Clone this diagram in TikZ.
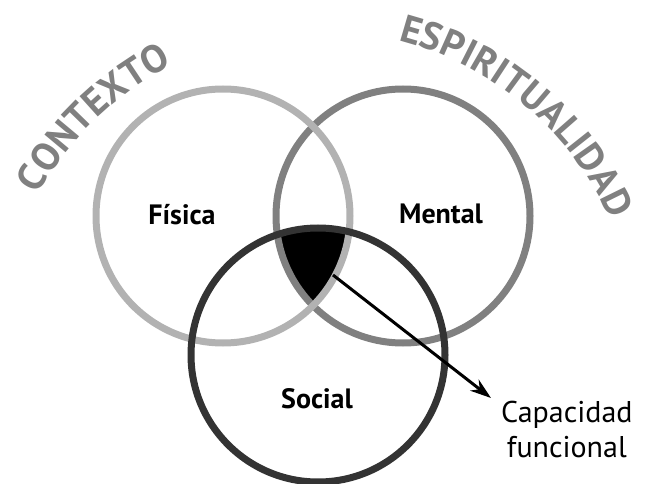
\documentclass[tikz,border=0pt]{standalone}
\usepackage{fontspec}
\setmainfont{PT Sans}
\usetikzlibrary{arrows.meta}
\usetikzlibrary{decorations.text}
\definecolor{ringlight}{gray}{0.70}
\definecolor{ringmid}{gray}{0.50}
\definecolor{ringdark}{gray}{0.20}
\definecolor{arctext}{gray}{0.50}
\newcommand\arcfont{\fontsize{39}{39}\selectfont\bfseries}
\tikzstyle{ring}=[line width=7pt]
\tikzstyle{area label}=[font=\fontsize{28}{32}\selectfont\bfseries]
\tikzstyle{note}=[font=\fontsize{30}{35}\selectfont, align=center, inner xsep=10pt, inner ysep=3pt]
\tikzstyle{pointer}=[line width=3pt, -{Stealth[length=21pt, width=14pt]}]

\begin{document}
\begin{tikzpicture}[x=1pt, y=1pt]
      \useasboundingbox (0,0) rectangle (646,483);
      \coordinate (fisica_c) at (223,267);
      \coordinate (mental_c) at (403,267);
      \coordinate (social_c) at (318,128);
      \coordinate (arc_c) at (318,133);

      % the part that all three share
      \begin{scope}
        \clip (fisica_c) circle[radius=127];
        \clip (mental_c) circle[radius=127];
        \fill[black] (social_c) circle[radius=127];
      \end{scope}

      \draw[ring, ringmid] (mental_c) circle[radius=127];
      \draw[ring, ringlight] (fisica_c) circle[radius=127];
      \draw[ring, ringdark] (social_c) circle[radius=127];

      \node[area label] (fisica) at (182,268) {Física};
      \node[area label] (mental) at (441,269) {Mental};
      \node[area label] (social) at (317,84) {Social};

      % words on the big arc
      \path[decorate, decoration={text along path, text color=arctext,
          text align=fit to path, text={|\arcfont|CONTEXTO}}]
        ([shift={(151:320)}]arc_c) arc[start angle=151, end angle=117, radius=320];
      \path[decorate, decoration={text along path, text color=arctext,
          text align=fit to path, text={|\arcfont|ESPIRITUALIDAD}}]
        ([shift={(75.5:320)}]arc_c) arc[start angle=75.5, end angle=24, radius=320];

      \coordinate (core) at (333,208);
      \node[note, anchor=north west] (capacidad) at (491,85) {Capacidad\\funcional};
      \draw[pointer] (core) to (capacidad.north west);
    \end{tikzpicture}
\end{document}
